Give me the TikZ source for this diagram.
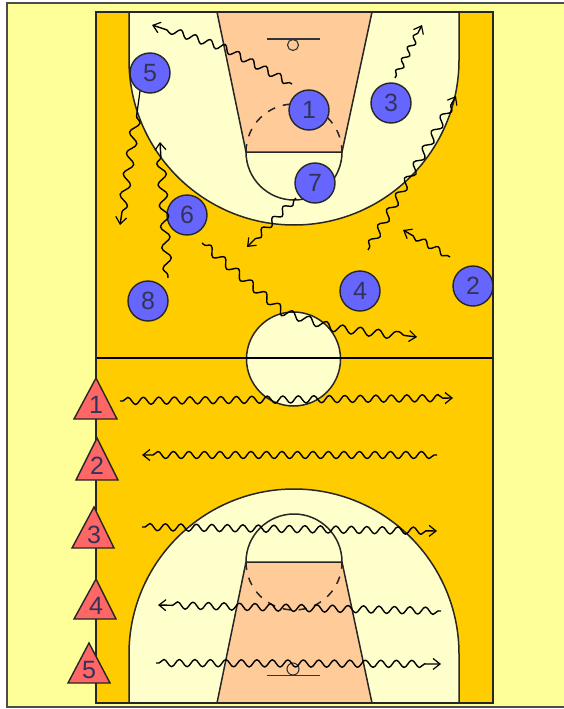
\documentclass[tikz,border=0pt]{standalone}
\usepackage{fontspec}
\setmainfont{Liberation Sans}
\usetikzlibrary{arrows.meta,decorations.pathmorphing,calc}
\definecolor{bgy}{HTML}{FFFF99}
\definecolor{court}{HTML}{FFCC00}
\definecolor{cream}{HTML}{FFFFCC}
\definecolor{lane}{HTML}{FFCC99}
\definecolor{plr}{HTML}{6666FF}
\definecolor{tri}{HTML}{FF6666}
\definecolor{inkd}{HTML}{33335A}
\tikzset{
  x=1pt,y=-1pt,
  courtline/.style={draw=black!85,line width=1.5pt},
  wave/.style={draw=black,line width=1.4pt,line join=round,-{Straight Barb[length=7pt,width=11pt,line width=1.2pt]},
    decorate,decoration={snake,segment length=15.5pt,amplitude=3.6pt,post length=9pt,pre length=3pt}},
  player/.style={circle,draw=black!85,fill=plr,line width=1.4pt,minimum size=40pt,inner sep=0pt,
    text=inkd,font=\fontsize{25}{25}\selectfont},
  defender/.style={draw=black!85,fill=tri,line width=1.4pt,line join=miter},
  tlabel/.style={text=inkd,font=\fontsize{25}{25}\selectfont,inner sep=0pt},
}
\begin{document}
\begin{tikzpicture}
\useasboundingbox (0,0) rectangle (564,709);
\fill[white] (0,0) rectangle (564,709);
\fill[bgy] (7,3) rectangle (564,707);
\draw[black!70,line width=1.6pt] (564,3) -- (7,3) -- (7,707) -- (564,707);
% court
\fill[court] (96,12) rectangle (493,703);
% top key
\fill[cream] (129,12) -- (129,60) .. controls (129,151) and (203,225) .. (294,225) .. controls (385,225) and (459,151) .. (459,60) -- (459,12) -- cycle;
\fill[lane] (217,12) -- (372,12) -- (342,152) -- (246,152) -- cycle;
\draw[courtline] (129,12) -- (129,60) .. controls (129,151) and (203,225) .. (294,225) .. controls (385,225) and (459,151) .. (459,60) -- (459,12);
\draw[courtline] (217,12) -- (246,152) -- (342,152) -- (372,12);
\draw[courtline] (246,152) .. controls (246,178.5) and (267.5,200) .. (294,200) .. controls (320.5,200) and (342,178.5) .. (342,152);
\draw[courtline,dash pattern=on 8pt off 8pt] (246,152) .. controls (246,125.5) and (267.5,104) .. (294,104) .. controls (320.5,104) and (342,125.5) .. (342,152);
\draw[black!80,line width=1.5pt] (267,39) -- (320,39);
\draw[black!80,line width=1.1pt] (293,45) circle[radius=5.5];
% bottom key
\fill[cream] (129,703) -- (129,654) .. controls (129,563) and (203,489) .. (294,489) .. controls (385,489) and (459,563) .. (459,654) -- (459,703) -- cycle;
\fill[lane] (217,703) -- (372,703) -- (342,562) -- (246,562) -- cycle;
\draw[courtline] (129,703) -- (129,654) .. controls (129,563) and (203,489) .. (294,489) .. controls (385,489) and (459,563) .. (459,654) -- (459,703);
\draw[courtline] (217,703) -- (246,562) -- (342,562) -- (372,703);
\draw[courtline] (246,562) .. controls (246,535.5) and (267.5,514) .. (294,514) .. controls (320.5,514) and (342,535.5) .. (342,562);
\draw[courtline,dash pattern=on 8pt off 8pt] (246,562) .. controls (246,588.5) and (267.5,610) .. (294,610) .. controls (320.5,610) and (342,588.5) .. (342,562);
\draw[black!80,line width=1.5pt] (267,675.5) -- (320,675.5);
\draw[black!80,line width=1.1pt] (293,669) circle[radius=6];
% centre circle and lines
\draw[courtline,fill=cream] (293.5,359) circle[radius=47];
\draw[black,line width=1.4pt] (96,358) -- (493,358);
\draw[courtline] (96,12) rectangle (493,703);
% players
\node[player] (p5) at (150,73) {5};
\node[player] (p1) at (309,110) {1};
\node[player] (p3) at (391,103) {3};
\node[player] (p7) at (315,183) {7};
\node[player] (p6) at (187,215) {6};
\node[player] (p8) at (148,301) {8};
\node[player] (p4) at (360,291) {4};
\node[player] (p2) at (473,286) {2};
% defenders
\filldraw[defender] (96,378) -- (117,419) -- (74,419) -- cycle;
\node[tlabel] (t1) at (96,405) {1};
\filldraw[defender] (97,438) -- (118,480) -- (76,480) -- cycle;
\node[tlabel] (t2) at (97,466) {2};
\filldraw[defender] (94,507) -- (114,548) -- (72,548) -- cycle;
\node[tlabel] (t3) at (94,535) {3};
\filldraw[defender] (96,579) -- (116,619) -- (74,619) -- cycle;
\node[tlabel] (t4) at (96,606) {4};
\filldraw[defender] (89,643) -- (110,683) -- (68,683) -- cycle;
\node[tlabel] (t5) at (89,670) {5};
% wave end points
\coordinate (a0) at (292,84); \coordinate (a1) at (152,25);
\coordinate (b0) at (395,78); \coordinate (b1) at (422,25);
\coordinate (c0) at (137,113); \coordinate (c1) at (120,225);
\coordinate (d0) at (168,278); \coordinate (d1) at (160,142);
\coordinate (e0) at (296,198); \coordinate (e1) at (247,247);
\coordinate (f0) at (368,250); \coordinate (f1) at (456,96);
\coordinate (g0) at (450,257); \coordinate (g1) at (403,230);
\coordinate (h0) at (202,243); \coordinate (h1) at (417,337);
\coordinate (r1a) at (120,401); \coordinate (r1b) at (453,398);
\coordinate (r2a) at (437,455); \coordinate (r2b) at (142,455);
\coordinate (r3a) at (142,527); \coordinate (r3b) at (437,531);
\coordinate (r4a) at (441,611); \coordinate (r4b) at (158,605);
\coordinate (r5a) at (156,663); \coordinate (r5b) at (441,664);
% waves
\draw[wave] (a0) -- (228,50) -- (a1);
\draw[wave,decoration={segment length=13pt,amplitude=3pt}] (b0) -- (b1);
\draw[black,line width=1.2pt] (p5) ++(-10,18) -- (c0);
\draw[wave,decoration={segment length=21pt,amplitude=4.5pt}] (c0) -- (c1);
\draw[wave,decoration={segment length=21pt,amplitude=4.5pt}] (d0) -- (d1);
\draw[wave,decoration={segment length=15pt,amplitude=3.2pt}] (e0) -- (e1);
\draw[wave,decoration={segment length=18pt,amplitude=4pt}] (f0) -- (f1);
\draw[wave,decoration={segment length=15pt,amplitude=3pt}] (g0) -- (g1);
\draw[wave,decoration={segment length=18pt,amplitude=4pt}] (h0) -- (282,311) -- (333,327) -- (h1);
\draw[wave] (r1a) -- (r1b);
\draw[wave] (r2a) -- (r2b);
\draw[wave] (r3a) -- (r3b);
\draw[wave] (r4a) -- (r4b);
\draw[wave] (r5a) -- (r5b);
\end{tikzpicture}
\end{document}
